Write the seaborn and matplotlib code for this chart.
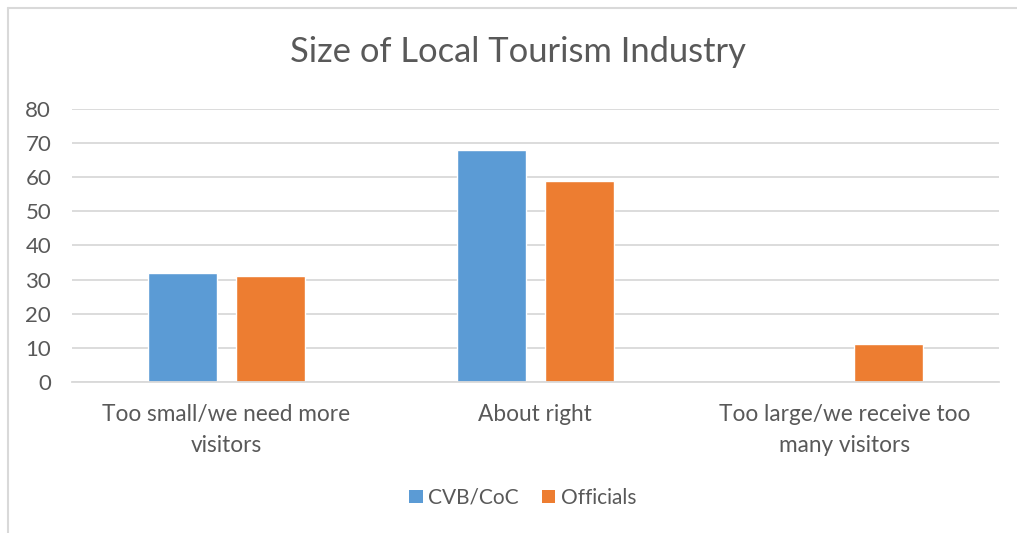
import matplotlib
matplotlib.use("Agg")
import matplotlib.pyplot as plt
import seaborn as sns
import pandas as pd
from matplotlib.lines import Line2D
from matplotlib.patches import Patch

categories = ["Too small/we need more\nvisitors", "About right", "Too large/we receive too\nmany visitors"]
series_names = ["CVB/CoC", "Officials"]
cvb_values = [32, 68, 0]
officials_values = [31, 59, 11]
y_ticks = [0, 10, 20, 30, 40, 50, 60, 70, 80]
colors = ["#5B9BD5", "#ED7D31"]
title = "Size of Local Tourism Industry"

df = pd.DataFrame({
    "category": categories * 2,
    "series": [series_names[0]] * 3 + [series_names[1]] * 3,
    "value": cvb_values + officials_values,
})

sns.set_theme(style="white")
plt.rcParams["font.family"] = ["Lato", "DejaVu Sans"]
text_color = "#595959"

fig = plt.figure(figsize=(10.17, 5.33), dpi=100)
ax = fig.add_axes([0.0708, 0.2833, 0.9112, 0.5122])

sns.barplot(data=df, x="category", y="value", hue="series", palette=colors,
            width=0.57, gap=0.216, ax=ax, legend=False, saturation=1)

ax.set_ylim(0, 80)
ax.set_yticks(y_ticks)
ax.set_xlim(-0.5, 2.5)
ax.yaxis.grid(True, color="#D9D9D9", linewidth=1.3)
ax.set_axisbelow(True)
for s in ["top", "right", "left"]:
    ax.spines[s].set_visible(False)
ax.spines["bottom"].set_color("#D9D9D9")
ax.spines["bottom"].set_linewidth(1.3)
ax.set_xlabel("")
ax.set_ylabel("")
ax.tick_params(axis="y", labelsize=16, colors=text_color, length=0, pad=15)
ax.tick_params(axis="x", labelsize=16.3, colors=text_color, length=0, pad=16)
for lbl in ax.get_yticklabels():
    lbl.set_horizontalalignment("right")
for lbl in ax.get_xticklabels():
    lbl.set_linespacing(1.55)

fig.text(0.509, 0.902, title, ha="center", va="center", fontsize=24.8, color=text_color)

handles = [Patch(facecolor=c, edgecolor="none") for c in colors]
fig.legend(handles, series_names, loc="center", bbox_to_anchor=(0.514, 0.066), ncol=2,
           frameon=False, fontsize=15, labelcolor=text_color, handlelength=0.65,
           handleheight=0.65, handletextpad=0.25, columnspacing=1.1)

fig.add_artist(Line2D([0.0075, 0.0075], [0, 0.985], transform=fig.transFigure, color="#D9D9D9", linewidth=1.5))
fig.add_artist(Line2D([0.0075, 1.0], [0.985, 0.985], transform=fig.transFigure, color="#D9D9D9", linewidth=1.5))

fig.savefig("out.png", dpi=100)
